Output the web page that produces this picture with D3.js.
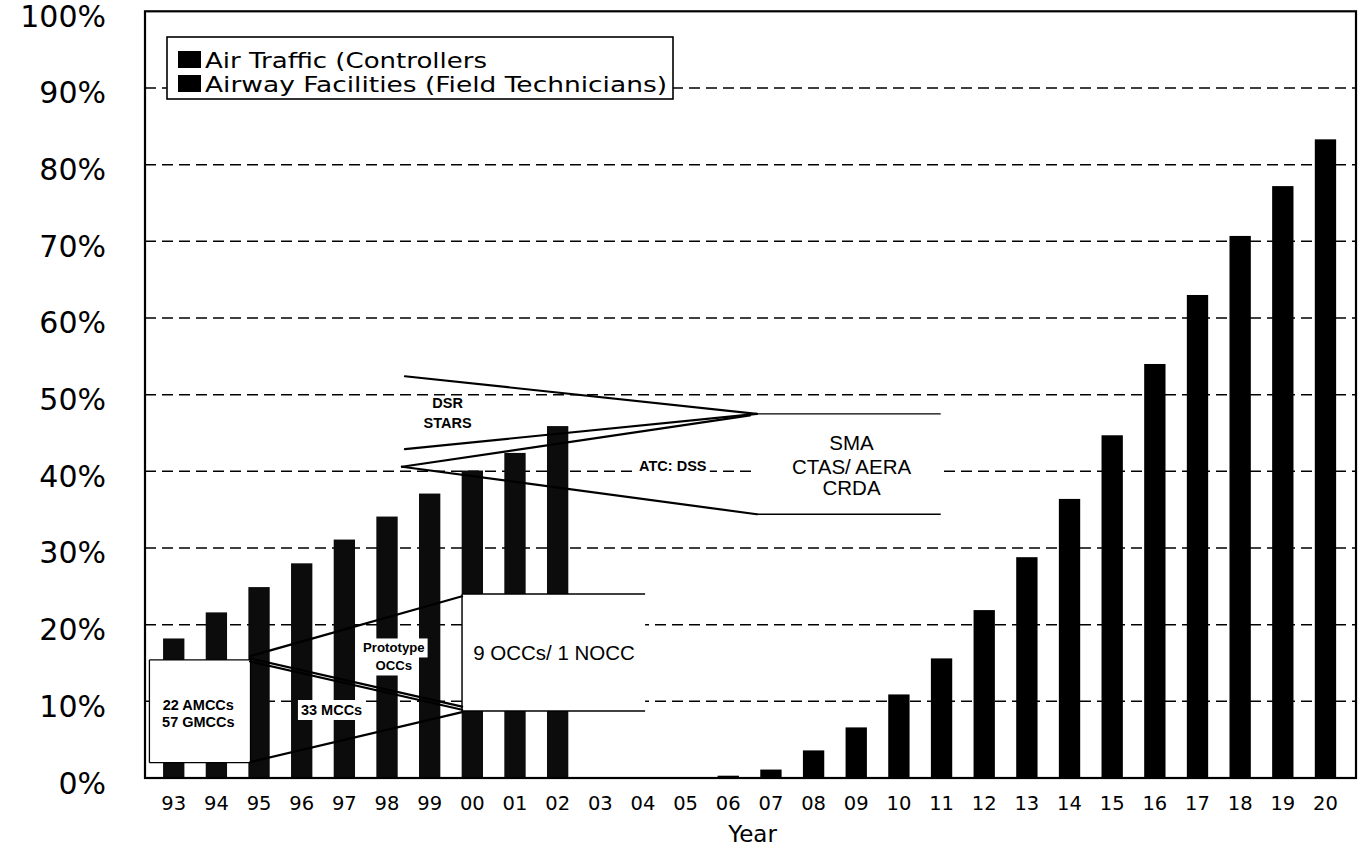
<!DOCTYPE html>
<html><head><meta charset="utf-8">
<script src="https://cdn.jsdelivr.net/npm/d3@7"></script>
<style>html,body{margin:0;padding:0;background:#fff;} svg{display:block;}</style>
</head><body>
<svg id="chart" width="1362" height="856"></svg>
<script>
// ---- data ----
const years = ["93","94","95","96","97","98","99","00","01","02","03","04","05","06",
               "07","08","09","10","11","12","13","14","15","16","17","18","19","20"];
const airTraffic = [null,null,null,null,null,null,null,null,null,null,null,null,null,
                    0.3,1.1,3.6,6.6,10.9,15.6,21.9,28.8,36.4,44.7,54.0,63.0,70.7,77.2,83.3];
const airwayFacilities = [18.2,21.6,24.9,28.0,31.1,34.1,37.1,40.1,42.4,45.9,
                          null,null,null,null,null,null,null,null,null,null,null,null,null,null,null,null,null,null];
const yTicks = [0,10,20,30,40,50,60,70,80,90,100];
const yTickLabels = ["0%","10%","20%","30%","40%","50%","60%","70%","80%","90%","100%"];
const seriesNames = ["Air Traffic (Controllers", "Airway Facilities (Field Technicians)"];
const xTitle = "Year";

// annotations in data units: x = fractional category index (0 = "93"), y = percent
const annotBoxes = [
  {x0:-0.57, x1:1.80, y0:2.0, y1:15.4, sides:"tblr"},
  {x0:6.76, x1:11.05, y0:8.74, y1:24.0, sides:"tbl"},
  {x0:13.67, x1:17.98, y0:34.4, y1:47.5, sides:"tb"}
];
const annotLines = [
  [1.79,15.9, 6.76,23.7],
  [1.79,15.6, 6.76,9.3],
  [1.79,15.2, 6.76,8.9],
  [1.80,2.1, 6.76,8.6],
  [5.42,52.4, 13.67,47.5],
  [5.42,42.9, 13.67,47.5],
  [5.35,40.6, 13.51,47.3],
  [5.35,40.6, 13.67,34.4]
];
const annotLabels = [
  {text:"22 AMCCs", x:0.577, y:9.52, kind:"small", bg:false},
  {text:"57 GMCCs", x:0.577, y:7.30, kind:"small", bg:false},
  {text:"33 MCCs", x:3.70, y:8.87, kind:"small", bg:true},
  {text:"Prototype", x:5.16, y:16.96, kind:"tiny", bg:true},
  {text:"OCCs", x:5.16, y:14.61, kind:"tiny", bg:true},
  {text:"9 OCCs/ 1 NOCC", x:7.02, y:16.43, kind:"big", bg:false, anchor:"start"},
  {text:"DSR", x:6.42, y:48.91, kind:"small", bg:false},
  {text:"STARS", x:6.42, y:46.34, kind:"small", bg:false},
  {text:"ATC: DSS", x:11.70, y:40.69, kind:"small", bg:true},
  {text:"SMA", x:15.89, y:43.82, kind:"big", bg:false},
  {text:"CTAS/ AERA", x:15.89, y:40.69, kind:"big", bg:false},
  {text:"CRDA", x:15.89, y:37.89, kind:"big", bg:false}
];

// ---- layout ----
const plotL = 145, plotR = 1356, plotT = 11.3, plotB = 778;
const svg = d3.select("#chart");
const x = d3.scaleBand().domain(years).range([152.4, 1346.8]).paddingInner(0.5).paddingOuter(0.25);
const y = d3.scaleLinear().domain([0,100]).range([plotB, plotT]);
const ax = i => x(years[0]) + x.bandwidth()/2 + i * x.step();

const fontAxis = "'DejaVu Sans', Verdana, sans-serif";
const fontAnn = "'Liberation Sans', Arial, Helvetica, sans-serif";

// gridlines
svg.append("g").selectAll("line").data(yTicks.filter(t => t > 0 && t < 100)).join("line")
  .attr("x1", plotL).attr("x2", plotR)
  .attr("y1", d => y(d)).attr("y2", d => y(d))
  .attr("stroke", "#000").attr("stroke-width", 1.5).attr("stroke-dasharray", "11,6");

// bars
const seriesData = [
  {name: seriesNames[1], values: airwayFacilities, color: "#0c0c0c"},
  {name: seriesNames[0], values: airTraffic, color: "#000"}
];
seriesData.forEach(s => {
  svg.append("g").selectAll("rect")
    .data(years.map((yr, i) => ({yr, v: s.values[i]})).filter(d => d.v != null))
    .join("rect")
    .attr("x", d => x(d.yr)).attr("width", x.bandwidth())
    .attr("y", d => y(d.v)).attr("height", d => plotB - y(d.v))
    .attr("fill", s.color);
});

// annotation boxes
const ag = svg.append("g");
annotBoxes.forEach(b => {
  const X0 = ax(b.x0), X1 = ax(b.x1), Y0 = y(b.y1), Y1 = y(b.y0);
  ag.append("rect").attr("x", X0).attr("y", Y0).attr("width", X1 - X0).attr("height", Y1 - Y0)
    .attr("fill", "#fff");
  const segs = [];
  if (b.sides.includes("t")) segs.push([X0, Y0, X1, Y0]);
  if (b.sides.includes("b")) segs.push([X0, Y1, X1, Y1]);
  if (b.sides.includes("l")) segs.push([X0, Y0, X0, Y1]);
  if (b.sides.includes("r")) segs.push([X1, Y0, X1, Y1]);
  segs.forEach(s => ag.append("line").attr("x1", s[0]).attr("y1", s[1]).attr("x2", s[2]).attr("y2", s[3])
    .attr("stroke", "#000").attr("stroke-width", 1.3));
});
// annotation lines
ag.selectAll("line.ann").data(annotLines).join("line").attr("class", "ann")
  .attr("x1", d => ax(d[0])).attr("y1", d => y(d[1]))
  .attr("x2", d => ax(d[2])).attr("y2", d => y(d[3]))
  .attr("stroke", "#000").attr("stroke-width", 2.2).attr("stroke-linecap", "round");

// annotation labels
const kinds = {
  small: {size: 14.5, weight: "bold"},
  tiny: {size: 13.2, weight: "bold"},
  big: {size: 20.5, weight: "normal"}
};
annotLabels.forEach(l => {
  const k = kinds[l.kind];
  const g = ag.append("g");
  const bgRect = g.append("rect").attr("fill", "#fff");
  const t = g.append("text").attr("x", ax(l.x)).attr("y", y(l.y))
    .attr("text-anchor", l.anchor || "middle").attr("dominant-baseline", "central")
    .attr("font-family", fontAnn).attr("font-size", k.size).attr("font-weight", k.weight)
    .attr("fill", "#000").text(l.text);
  if (l.bg) {
    const bb = t.node().getBBox();
    bgRect.attr("x", bb.x - 3).attr("y", bb.y - 2).attr("width", bb.width + 6).attr("height", bb.height + 4);
  } else bgRect.remove();
});

// y-axis labels
const yAxis = d3.axisLeft(y).tickValues(yTicks).tickFormat((d, i) => yTickLabels[i]).tickSize(0).tickPadding(39);
const yg = svg.append("g").attr("transform", `translate(${plotL},0)`).call(yAxis);
yg.select(".domain").remove();
yg.selectAll("text").attr("font-family", fontAxis).attr("font-size", 30).attr("fill", "#000")
  .attr("dy", "0.5em");

// x-axis labels
const xAxis = d3.axisBottom(x).tickSize(0).tickPadding(0);
const xg = svg.append("g").attr("transform", `translate(0,${plotB})`).call(xAxis);
xg.select(".domain").remove();
xg.selectAll("text").attr("font-family", fontAxis).attr("font-size", 19.5).attr("fill", "#000")
  .attr("y", 25).attr("dy", "0.35em");
svg.append("text").attr("x", (plotL + plotR) / 2 + 2).attr("y", 834).attr("text-anchor", "middle")
  .attr("dominant-baseline", "central").attr("font-family", fontAxis).attr("font-size", 23)
  .attr("fill", "#000").text(xTitle);

// legend
const lg = svg.append("g");
lg.append("rect").attr("x", 167).attr("y", 37).attr("width", 506).attr("height", 62)
  .attr("fill", "#fff").attr("stroke", "#000").attr("stroke-width", 1.6);
const legendWidths = [282, 462];
seriesNames.forEach((n, i) => {
  lg.append("rect").attr("x", 178).attr("y", 51 + i * 24).attr("width", 23).attr("height", 17).attr("fill", "#000");
  lg.append("text").attr("x", 205).attr("y", 61 + i * 24).attr("dominant-baseline", "central")
    .attr("font-family", fontAxis).attr("font-size", 21).attr("fill", "#000")
    .attr("textLength", legendWidths[i]).attr("lengthAdjust", "spacingAndGlyphs").text(n);
});

// frame
svg.append("rect").attr("x", plotL).attr("y", plotT).attr("width", plotR - plotL).attr("height", plotB - plotT)
  .attr("fill", "none").attr("stroke", "#000").attr("stroke-width", 2.2);
</script>
</body></html>
